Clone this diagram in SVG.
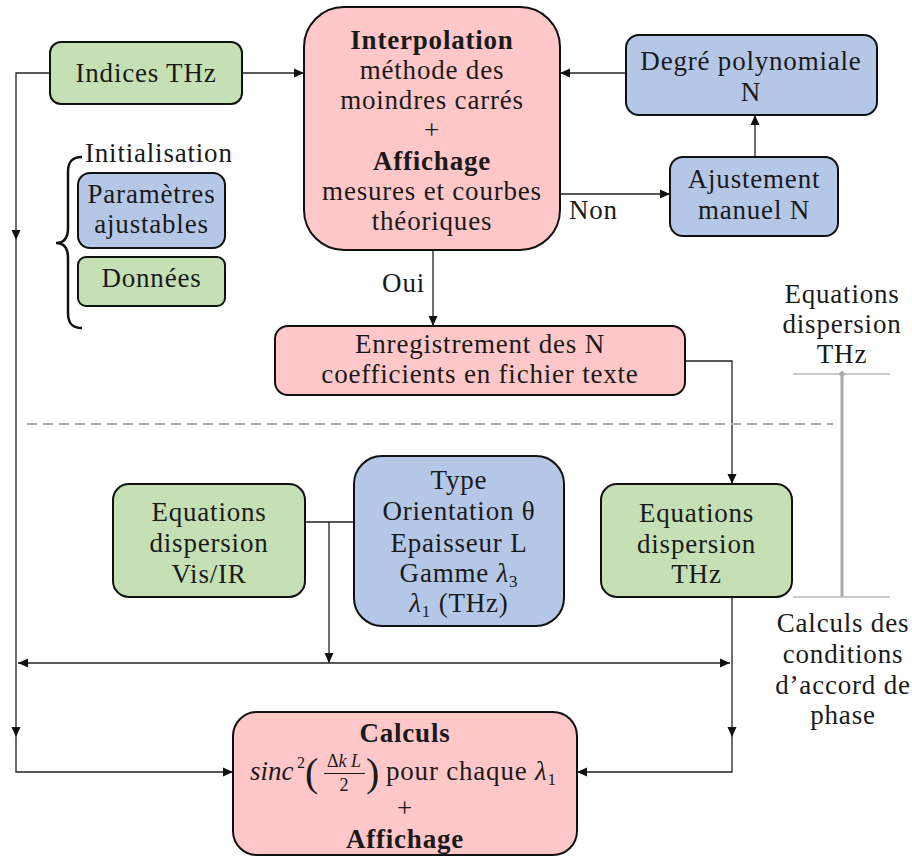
<svg xmlns="http://www.w3.org/2000/svg" width="912" height="857" viewBox="0 0 912 857">
<style>
text{font-family:"Liberation Serif","Times New Roman",serif;font-size:27px;letter-spacing:0.8px;fill:#1a1a1a;text-anchor:middle}
.b{font-weight:bold}
.i{font-style:italic}
.st{text-anchor:start}
.en{text-anchor:end}
.m{letter-spacing:0}
.sub{font-size:17px}
.box{stroke:#111;stroke-width:2}
.g{fill:#C5E0B4}
.bl{fill:#B4C7E7}
.p{fill:#FFC7C7}
.c{fill:none;stroke:#222;stroke-width:1.3}
</style>
<defs>
<marker id="arr" viewBox="0 0 10 10" refX="10" refY="5" markerWidth="10" markerHeight="10" markerUnits="userSpaceOnUse" orient="auto-start-reverse">
<path d="M0,0.5 L10,5 L0,9.5 Z" fill="#111"/>
</marker>
<marker id="dia" viewBox="0 0 8 8" refX="4" refY="4" markerWidth="7" markerHeight="7" markerUnits="userSpaceOnUse">
<path d="M4,0 L8,4 L4,8 L0,4 Z" fill="#aaa"/>
</marker>
</defs>
<rect width="912" height="857" fill="#fff"/>

<g id="connectors">
<path class="c" d="M242,73 H304" marker-end="url(#arr)"/>
<path class="c" d="M626,73 H560" marker-end="url(#arr)"/>
<path class="c" d="M755,157 V115" marker-end="url(#arr)"/>
<path class="c" d="M560,194 H670" marker-end="url(#arr)"/>
<path class="c" d="M433,250 V326" marker-end="url(#arr)"/>
<path class="c" d="M685,361 H732 V484" marker-end="url(#arr)"/>
<path class="c" d="M50,73 H16 V240" marker-end="url(#arr)"/>
<path class="c" d="M16,240 V737" marker-end="url(#arr)"/>
<path class="c" d="M16,737 V772 H233" marker-end="url(#arr)"/>
<path class="c" d="M732,597 V737" marker-end="url(#arr)"/>
<path class="c" d="M732,737 V772 H577" marker-end="url(#arr)"/>
<path class="c" d="M305,522 H354"/>
<path class="c" d="M329,522 V663" marker-end="url(#arr)"/>
<path class="c" d="M18,663 H730" marker-start="url(#arr)" marker-end="url(#arr)"/>
<path d="M27,424 H833" fill="none" stroke="#aaa" stroke-width="2" stroke-dasharray="10,6"/>
<path d="M842,374 V597" fill="none" stroke="#aaa" stroke-width="3"/>
<path d="M793,374 H890 M793,597 H890" fill="none" stroke="#bbb" stroke-width="1.5"/>
<path d="M842,374 L842,374.1 M842,597 L842,597.1" fill="none" stroke="none" marker-start="url(#dia)"/>
<path d="M82,157 C72,157 68,162 68,172 L68,228 C68,238 64,243 56,243 C64,243 68,248 68,258 L68,313 C68,323 72,328 82,328" fill="none" stroke="#111" stroke-width="2.5"/>
<text x="569" y="219" class="st">Non</text>
<text x="425" y="292" class="en">Oui</text>
</g>

<g id="indices">
<rect class="box g" x="50" y="42" width="192" height="62" rx="11"/>
<text x="146" y="82">Indices THz</text>
</g>

<g id="interpolation">
<rect class="box p" x="304" y="7" width="256" height="243" rx="40"/>
<text x="432" y="49" class="b">Interpolation</text>
<text x="432" y="79">méthode des</text>
<text x="432" y="109">moindres carrés</text>
<text x="432" y="139">+</text>
<text x="432" y="170" class="b">Affichage</text>
<text x="432" y="200">mesures et courbes</text>
<text x="432" y="230">théoriques</text>
</g>

<g id="degre">
<rect class="box bl" x="626" y="35" width="251" height="80" rx="13"/>
<text x="751" y="70">Degré polynomiale</text>
<text x="751" y="101">N</text>
</g>

<g id="ajustement">
<rect class="box bl" x="670" y="157" width="168" height="79" rx="13"/>
<text x="754" y="188">Ajustement</text>
<text x="754" y="219">manuel N</text>
</g>

<g id="initialisation">
<text x="85" y="162" class="st">Initialisation</text>
</g>

<g id="parametres">
<rect class="box bl" x="78" y="173" width="147" height="75" rx="12"/>
<text x="151.5" y="203">Paramètres</text>
<text x="151.5" y="233">ajustables</text>
</g>

<g id="donnees">
<rect class="box g" x="78" y="257" width="147" height="49" rx="8"/>
<text x="151.5" y="287">Données</text>
</g>

<g id="enregistrement">
<rect class="box p" x="275" y="326" width="410" height="69" rx="13"/>
<text x="480" y="353">Enregistrement des N</text>
<text x="480" y="383">coefficients en fichier texte</text>
</g>

<g id="label-thz">
<text x="842" y="303">Equations</text>
<text x="842" y="333">dispersion</text>
<text x="842" y="363">THz</text>
</g>

<g id="label-calculs">
<text x="843" y="632">Calculs des</text>
<text x="843" y="663">conditions</text>
<text x="843" y="694">d’accord de</text>
<text x="843" y="724">phase</text>
</g>

<g id="visir">
<rect class="box g" x="113" y="484" width="192" height="113" rx="16"/>
<text x="209" y="521">Equations</text>
<text x="209" y="552">dispersion</text>
<text x="209" y="583">Vis/IR</text>
</g>

<g id="type">
<rect class="box bl" x="354" y="456" width="210" height="170" rx="28"/>
<text x="459" y="489">Type</text>
<text x="459" y="520">Orientation θ</text>
<text x="459" y="552">Epaisseur L</text>
<text x="459" y="582">Gamme <tspan class="i">λ</tspan><tspan class="sub" dy="5">3</tspan></text>
<text x="459" y="612"><tspan class="i">λ</tspan><tspan class="sub" dy="5">1</tspan><tspan dy="-5"> (THz)</tspan></text>
</g>

<g id="eqthz">
<rect class="box g" x="601" y="484" width="191" height="113" rx="16"/>
<text x="696.5" y="522">Equations</text>
<text x="696.5" y="553">dispersion</text>
<text x="696.5" y="583">THz</text>
</g>

<g id="calculs">
<rect class="box p" x="233" y="712" width="344" height="143" rx="24"/>
<text x="405" y="742" class="b">Calculs</text>
<text x="250" y="780" class="st i m">sinc</text>
<text x="297" y="768" class="st m" style="font-size:16px">2</text>
<text x="305" y="786" class="st m" style="font-size:40px;font-weight:300">(</text>
<text x="344" y="767" class="m" style="font-size:18px"><tspan>Δ</tspan><tspan class="i">k L</tspan></text>
<path d="M324,773.5 H365" stroke="#1a1a1a" stroke-width="1.2"/>
<text x="344" y="791" class="m" style="font-size:18px">2</text>
<text x="366" y="786" class="st m" style="font-size:40px;font-weight:300">)</text>
<text x="386" y="780" class="st">pour chaque <tspan class="i">λ</tspan><tspan class="sub" dy="5">1</tspan></text>
<text x="405" y="817">+</text>
<text x="405" y="848" class="b">Affichage</text>
</g>
</svg>
